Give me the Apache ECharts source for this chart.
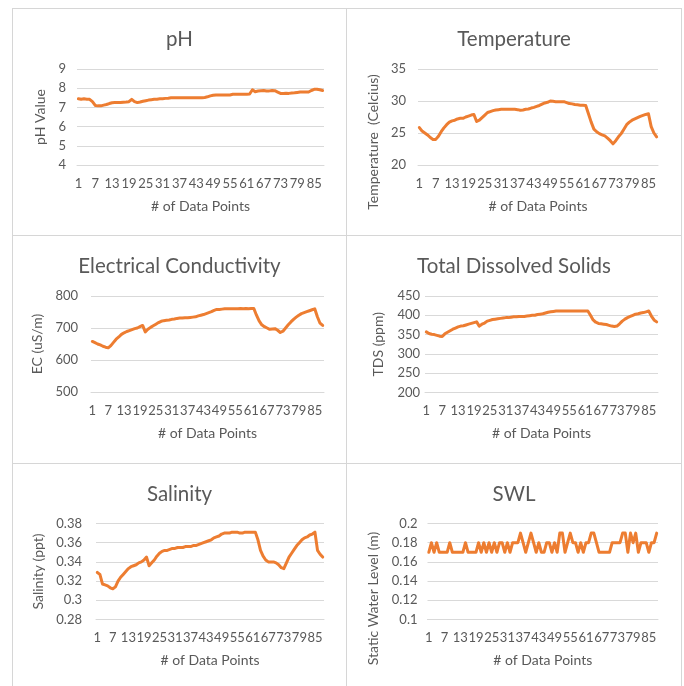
<!DOCTYPE html>
<html>
<head>
<meta charset="utf-8">
<script src="https://cdn.jsdelivr.net/npm/echarts@6/dist/echarts.min.js"></script>
<style>
  html, body { margin: 0; padding: 0; background: #fff; }
  .panel {
    position: absolute;
    box-sizing: border-box;
    border: 1px solid #d6d6d6;
    background: #fff;
  }
</style>
</head>
<body>
<div id="panels"></div>
<script>
// x categories: data point number 1..88
const pointLabels = Array.from({ length: 88 }, (_, i) => String(i + 1))

const phValues = [
  7.45, 7.42, 7.45, 7.43, 7.42, 7.3, 7.1, 7.08, 7.08, 7.12,
  7.15, 7.2, 7.24, 7.25, 7.25, 7.25, 7.27, 7.28, 7.3, 7.42,
  7.3, 7.25, 7.28, 7.32, 7.35, 7.38, 7.4, 7.42, 7.43, 7.45,
  7.45, 7.47, 7.48, 7.5, 7.5, 7.5, 7.5, 7.5, 7.5, 7.5,
  7.5, 7.5, 7.5, 7.5, 7.5, 7.52, 7.55, 7.6, 7.63, 7.65,
  7.65, 7.65, 7.65, 7.65, 7.65, 7.68, 7.68, 7.68, 7.68, 7.68,
  7.68, 7.7, 7.92, 7.82, 7.85, 7.87, 7.88, 7.85, 7.86, 7.88,
  7.87, 7.8, 7.73, 7.72, 7.74, 7.73, 7.75, 7.76, 7.78, 7.8,
  7.8, 7.8, 7.8, 7.88, 7.94, 7.95, 7.92, 7.88,
]

const temperatureValues = [
  25.85, 25.3, 25.0, 24.7, 24.3, 24.0, 24.0, 24.5, 25.2, 25.8,
  26.3, 26.7, 26.9, 27.0, 27.2, 27.3, 27.3, 27.5, 27.65, 27.8,
  27.9, 26.8, 27.0, 27.4, 27.8, 28.2, 28.35, 28.5, 28.6, 28.65,
  28.7, 28.7, 28.7, 28.7, 28.7, 28.7, 28.65, 28.55, 28.6, 28.7,
  28.75, 28.9, 29.0, 29.15, 29.3, 29.5, 29.7, 29.8, 30.0, 29.95,
  29.9, 29.9, 29.9, 29.9, 29.75, 29.6, 29.55, 29.45, 29.4, 29.35,
  29.35, 29.3, 28.0, 26.7, 25.6, 25.2, 24.9, 24.7, 24.55, 24.2,
  23.8, 23.3, 23.8, 24.4, 24.9, 25.6, 26.3, 26.7, 27.0, 27.2,
  27.4, 27.6, 27.75, 27.9, 28.0, 26.0, 25.0, 24.4,
]

const ecValues = [
  658, 654, 650, 647, 643, 640, 638, 645, 655, 665,
  672, 680, 685, 689, 692, 695, 698, 700, 704, 708,
  688, 696, 702, 707, 712, 717, 721, 723, 724, 725,
  727, 728, 730, 731, 731, 732, 732, 733, 734, 735,
  738, 740, 742, 745, 748, 751, 755, 758, 758, 759,
  760, 760, 760, 760, 760, 760, 761, 760, 761, 760,
  761, 761, 740, 722, 710, 704, 700, 696, 697, 698,
  693, 686, 690, 700, 710, 719, 727, 734, 740, 745,
  748, 751, 754, 757, 760, 735, 715, 708,
]

const tdsValues = [
  357, 353, 351, 350, 348, 346, 345, 352, 356, 360,
  364, 367, 370, 372, 373, 375, 377, 379, 381, 383,
  372, 377, 380, 385, 387, 389, 390, 391, 392, 393,
  394, 394, 395, 396, 396, 397, 397, 397, 398, 399,
  400, 400, 402, 403, 404, 406, 408, 409, 410, 411,
  411, 411, 411, 411, 411, 411, 411, 411, 411, 411,
  411, 411, 400, 388, 382, 379, 378, 377, 376, 374,
  372, 371, 372, 378, 385, 390, 394, 397, 400, 403,
  404, 406, 407, 409, 411, 398, 388, 383,
]

const salinityValues = [
  0.329, 0.327, 0.317, 0.316, 0.315, 0.313, 0.312, 0.314, 0.32, 0.324,
  0.327, 0.33, 0.333, 0.335, 0.336, 0.337, 0.339, 0.34, 0.342, 0.345,
  0.336, 0.339, 0.342, 0.346, 0.349, 0.351, 0.352, 0.352, 0.353, 0.354,
  0.354, 0.355, 0.355, 0.355, 0.356, 0.356, 0.356, 0.357, 0.357, 0.358,
  0.359, 0.36, 0.361, 0.362, 0.363, 0.365, 0.366, 0.367, 0.369, 0.37,
  0.37, 0.37, 0.371, 0.371, 0.371, 0.37, 0.37, 0.371, 0.371, 0.371,
  0.371, 0.371, 0.363, 0.352, 0.346, 0.342, 0.34, 0.34, 0.34, 0.339,
  0.337, 0.334, 0.333, 0.339, 0.345, 0.349, 0.353, 0.357, 0.36, 0.363,
  0.365, 0.366, 0.368, 0.369, 0.371, 0.352, 0.348, 0.345,
]

const swlValues = [
  0.17, 0.18, 0.17, 0.18, 0.17, 0.17, 0.17, 0.17, 0.18, 0.17,
  0.17, 0.17, 0.17, 0.17, 0.18, 0.17, 0.17, 0.17, 0.17, 0.18,
  0.17, 0.18, 0.17, 0.18, 0.17, 0.18, 0.17, 0.18, 0.18, 0.17,
  0.18, 0.17, 0.18, 0.18, 0.18, 0.19, 0.18, 0.17, 0.18, 0.19,
  0.18, 0.17, 0.18, 0.17, 0.17, 0.18, 0.18, 0.17, 0.18, 0.17,
  0.19, 0.19, 0.17, 0.18, 0.19, 0.18, 0.18, 0.17, 0.18, 0.17,
  0.18, 0.18, 0.19, 0.19, 0.18, 0.17, 0.17, 0.17, 0.17, 0.17,
  0.18, 0.18, 0.18, 0.18, 0.19, 0.19, 0.17, 0.19, 0.18, 0.19,
  0.17, 0.18, 0.18, 0.18, 0.17, 0.18, 0.18, 0.19,
]

const FONT = 'Lato'
const TEXT = '#595959'
const GRID_LINE = '#d9d9d9'
const LINE = '#ed7d31'

// panel boxes (left, top, width, height) + plot area inside
const panels = [
  { title: 'pH', yName: 'pH Value', values: phValues, min: 4, max: 9, step: 1,
    box: [12, 8, 335, 228], grid: [64, 22, 60, 96], labelMargin: 11, nameGap: 26, nameShift: 0 },
  { title: 'Temperature', yName: 'Temperature  (Celcius)', values: temperatureValues, min: 20, max: 35, step: 5,
    box: [346, 8, 336, 228], grid: [71, 23, 60, 96], labelMargin: 12, nameGap: 33, nameShift: 25 },
  { title: 'Electrical Conductivity', yName: 'EC (uS/m)', values: ecValues, min: 500, max: 800, step: 100,
    box: [12, 235, 335, 229], grid: [78, 22, 60, 96], labelMargin: 13, nameGap: 40, nameShift: 0 },
  { title: 'Total Dissolved Solids', yName: 'TDS (ppm)', values: tdsValues, min: 200, max: 450, step: 50,
    box: [346, 235, 336, 229], grid: [78, 23, 60, 96.5], labelMargin: 5, nameGap: 40, nameShift: 0 },
  { title: 'Salinity', yName: 'Salinity (ppt)', values: salinityValues, min: 0.28, max: 0.38, step: 0.02,
    box: [12, 463, 335, 232], grid: [83, 22, 59.5, 96], labelMargin: 14, nameGap: 45, nameShift: 0 },
  { title: 'SWL', yName: 'Static Water Level (m)', values: swlValues, min: 0.1, max: 0.2, step: 0.02,
    box: [346, 463, 336, 232], grid: [80.5, 23, 59.5, 96], labelMargin: 10, nameGap: 42, nameShift: 27 },
]

const root = document.getElementById('panels')

panels.forEach((p) => {
  const el = document.createElement('div')
  el.className = 'panel'
  const [left, top, width, height] = p.box
  el.style.left = left + 'px'
  el.style.top = top + 'px'
  el.style.width = width + 'px'
  el.style.height = height + 'px'
  root.appendChild(el)

  const chart = echarts.init(el, null, { renderer: 'canvas' })
  const [gLeft, gRight, gTop, gHeight] = p.grid

  chart.setOption({
    animation: false,
    textStyle: { fontFamily: FONT },
    title: {
      text: p.title,
      left: 'center',
      top: 15,
      textStyle: { fontFamily: FONT, fontSize: 20.5, fontWeight: 'normal', color: TEXT },
    },
    grid: { left: gLeft, right: gRight, top: gTop, height: gHeight },
    xAxis: {
      type: 'category',
      data: pointLabels,
      boundaryGap: true,
      name: '# of Data Points',
      nameLocation: 'middle',
      nameGap: 34,
      nameTextStyle: { fontFamily: FONT, fontSize: 14, color: TEXT },
      axisLine: { lineStyle: { color: GRID_LINE } },
      axisTick: { show: false },
      axisLabel: { interval: 5, margin: 12, fontFamily: FONT, fontSize: 13, color: TEXT },
    },
    yAxis: {
      type: 'value',
      min: p.min,
      max: p.max,
      interval: p.step,
      name: p.yName,
      nameLocation: 'middle',
      nameGap: p.nameGap,
      nameTextStyle: {
        fontFamily: FONT, fontSize: 14, color: TEXT,
        padding: [0, p.nameShift * 2, 0, 0],
      },
      axisLine: { show: false },
      axisTick: { show: false },
      axisLabel: { margin: p.labelMargin, fontFamily: FONT, fontSize: 13, color: TEXT },
      splitLine: { lineStyle: { color: GRID_LINE } },
    },
    series: [
      {
        type: 'line',
        data: p.values,
        showSymbol: false,
        lineStyle: { color: LINE, width: 3, join: 'round', cap: 'round' },
        itemStyle: { color: LINE },
      },
    ],
  })
})
</script>
</body>
</html>
